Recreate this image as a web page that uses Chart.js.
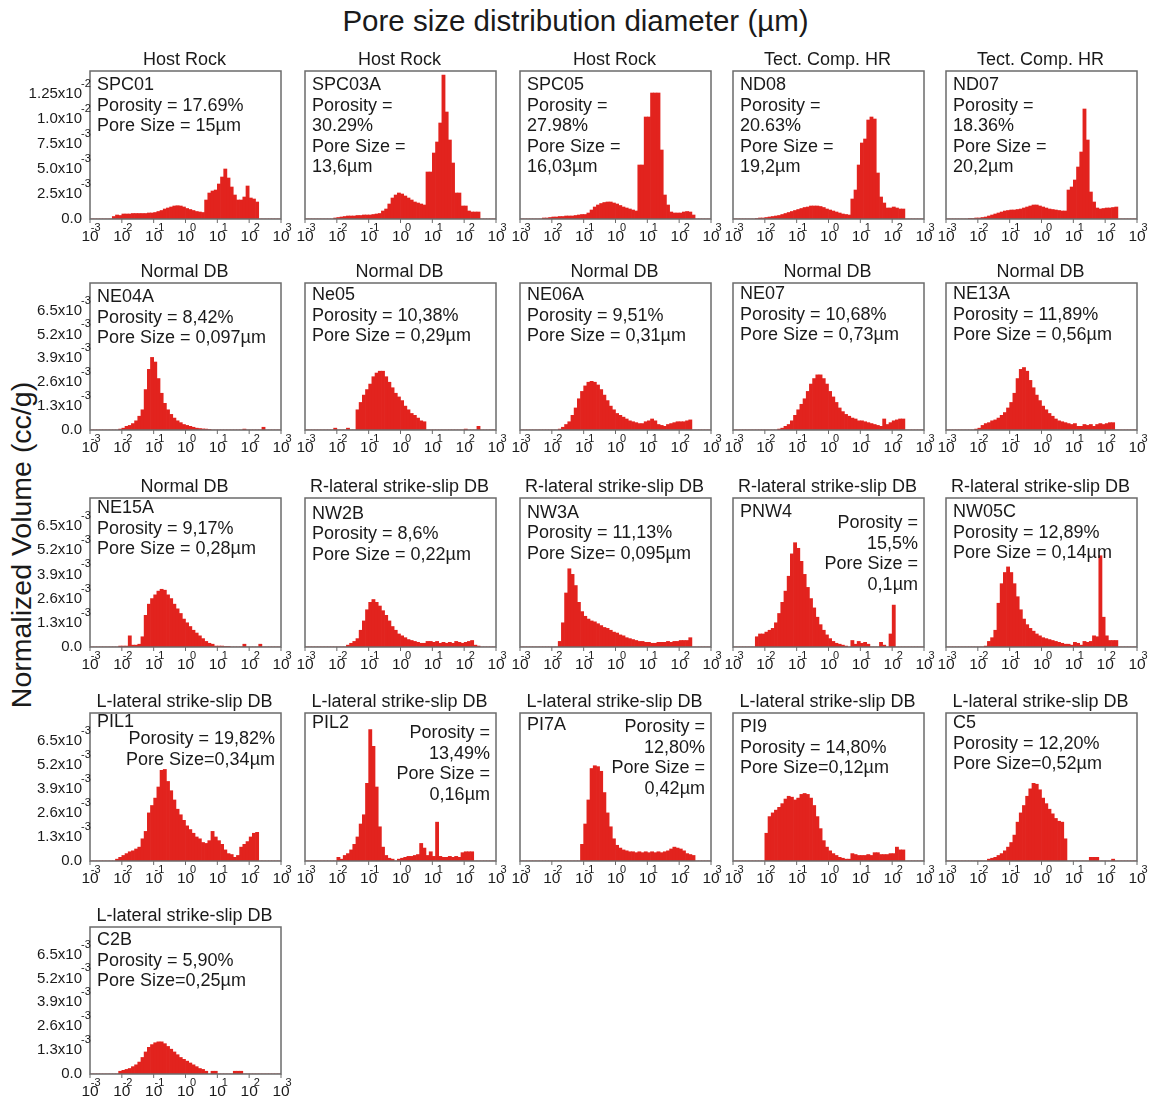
<!DOCTYPE html>
<html>
<head>
<meta charset="utf-8">
<script src="https://cdn.jsdelivr.net/npm/chart.js@4.4.0/dist/chart.umd.min.js"></script>
<style>
  body { margin: 0; background: #fff; width: 1151px; height: 1101px; position: relative; overflow: hidden;
         font-family: "Liberation Sans", Arial, sans-serif; color: #1a1a1a; }
  #title { position: absolute; left: 0; width: 1151px; top: 4px; text-align: center; font-size: 29.5px; }
  #ylab { position: absolute; left: 21px; top: 545px; transform: translate(-50%, -50%) rotate(-90deg);
          font-size: 28.5px; white-space: nowrap; }
  canvas { position: absolute; }
</style>
</head>
<body>
<div id="title">Pore size distribution diameter (µm)</div>
<div id="ylab">Normalized Volume (cc/g)</div>
<script>
// log10 of pore diameter (µm), centre of each 0.1-decade bin
const binCenters = [
  -2.95, -2.85, -2.75, -2.65, -2.55, -2.45, -2.35, -2.25, -2.15, -2.05,
  -1.95, -1.85, -1.75, -1.65, -1.55, -1.45, -1.35, -1.25, -1.15, -1.05,
  -0.95, -0.85, -0.75, -0.65, -0.55, -0.45, -0.35, -0.25, -0.15, -0.05,
  0.05, 0.15, 0.25, 0.35, 0.45, 0.55, 0.65, 0.75, 0.85, 0.95,
  1.05, 1.15, 1.25, 1.35, 1.45, 1.55, 1.65, 1.75, 1.85, 1.95,
  2.05, 2.15, 2.25, 2.35, 2.45, 2.55, 2.65, 2.75, 2.85, 2.95
];

// normalized volume per bin, in 10^-3 cc/g
const spc01 = [
  0, 0, 0, 0, 0, 0, 0, 0.25, 0.4, 0.35,
  0.5, 0.5, 0.5, 0.55, 0.55, 0.55, 0.55, 0.55, 0.6, 0.6,
  0.65, 0.75, 0.85, 1.0, 1.1, 1.2, 1.3, 1.33, 1.3, 1.2,
  1.05, 0.95, 0.85, 0.75, 0.7, 0.65, 1.9, 2.6, 2.8, 2.9,
  3.5, 4.2, 5.0, 4.1, 3.2, 2.4, 1.9, 1.9, 2.2, 3.3,
  2.1, 2.0, 1.7, 0, 0, 0, 0, 0, 0, 0
];
const spc03a = [
  0, 0, 0, 0, 0, 0, 0, 0, 0, 0.1,
  0.15, 0.2, 0.25, 0.3, 0.3, 0.3, 0.35, 0.35, 0.4, 0.4,
  0.4, 0.45, 0.5, 0.55, 0.8, 1.0, 1.5, 2.1, 2.4, 2.6,
  2.5, 2.3, 2.1, 1.9, 1.7, 1.6, 1.5, 1.4, 4.7, 4.7,
  6.6, 7.7, 9.6, 14.4, 10.7, 7.9, 5.6, 2.6, 2.6, 1.3,
  1.3, 0.8, 0.7, 0.7, 0.7, 0, 0, 0, 0, 0
];
const spc05 = [
  0, 0, 0, 0, 0, 0, 0, 0.1, 0.1, 0.15,
  0.2, 0.2, 0.25, 0.25, 0.3, 0.3, 0.3, 0.35, 0.4, 0.45,
  0.45, 0.6, 0.9, 1.2, 1.4, 1.55, 1.65, 1.7, 1.7, 1.6,
  1.5, 1.35, 1.2, 1.1, 1.0, 0.9, 0.8, 5.4, 5.4, 10.2,
  10.2, 12.6, 12.6, 12.6, 6.9, 2.4, 1.4, 0.7, 0.6, 0.6,
  0.6, 0.7, 0.75, 0.7, 0.4, 0, 0, 0, 0, 0
];
const nd08 = [
  0, 0, 0, 0, 0, 0, 0, 0.05, 0.1, 0.1,
  0.15, 0.2, 0.25, 0.3, 0.35, 0.45, 0.55, 0.65, 0.75, 0.85,
  0.95, 1.05, 1.15, 1.2, 1.3, 1.3, 1.3, 1.25, 1.15, 1.0,
  0.9, 0.8, 0.7, 0.6, 0.5, 0.45, 0.4, 2.0, 2.9, 5.4,
  7.6, 8.0, 9.9, 10.2, 10.0, 4.6, 2.2, 1.6, 1.1, 1.1,
  1.2, 1.1, 1.0, 1.0, 0, 0, 0, 0, 0, 0
];
const nd07 = [
  0, 0, 0, 0, 0, 0, 0, 0.05, 0.05, 0.1,
  0.1, 0.15, 0.2, 0.3, 0.4, 0.5, 0.6, 0.7, 0.8, 0.85,
  0.9, 0.9, 0.95, 1.0, 1.1, 1.2, 1.3, 1.4, 1.4, 1.3,
  1.2, 1.1, 1.0, 0.95, 0.9, 0.85, 0.8, 0.8, 2.9, 3.2,
  3.9, 5.2, 6.7, 11.0, 7.9, 2.7, 1.7, 1.1, 1.0, 1.05,
  1.1, 1.1, 1.15, 1.2, 0, 0, 0, 0, 0, 0
];
const ne04a = [
  0, 0, 0, 0, 0, 0, 0, 0, 0, 0.05,
  0.1, 0.2, 0.25, 0.35, 0.5, 0.75, 1.1, 2.2, 3.3, 3.95,
  3.7, 2.8, 2.0, 1.45, 1.1, 0.85, 0.65, 0.5, 0.4, 0.3,
  0.25, 0.2, 0.15, 0.1, 0.08, 0.06, 0.05, 0.03, 0, 0,
  0, 0, 0, 0, 0, 0, 0, 0, 0.05, 0,
  0, 0, 0, 0, 0.15, 0, 0, 0, 0, 0
];
const ne05 = [
  0, 0, 0, 0, 0, 0, 0, 0, 0, 0.1,
  0, 0, 0, 0.1, 0, 0, 1.1, 1.5, 1.9, 2.2,
  2.5, 2.9, 3.1, 3.2, 3.2, 2.9, 2.6, 2.3, 2.0, 1.8,
  1.6, 1.3, 1.1, 0.9, 0.8, 0.65, 0.5, 0.45, 0, 0,
  0, 0, 0, 0, 0, 0, 0, 0, 0, 0,
  0.05, 0, 0, 0, 0.2, 0, 0, 0, 0, 0
];
const ne06a = [
  0, 0, 0, 0, 0, 0, 0, 0, 0, 0,
  0, 0, 0.05, 0.15, 0.3, 0.45, 0.8, 1.2, 1.7, 2.1,
  2.4, 2.6, 2.65, 2.6, 2.45, 2.2, 1.9, 1.6, 1.3, 1.1,
  0.9, 0.8, 0.7, 0.6, 0.5, 0.45, 0.4, 0.35, 0.35, 0.45,
  0.5, 0.6, 0.5, 0.3, 0.25, 0.2, 0.3, 0.35, 0.4, 0.45,
  0.45, 0.45, 0.5, 0.55, 0, 0, 0, 0, 0, 0
];
const ne07 = [
  0, 0, 0, 0, 0, 0, 0, 0, 0, 0,
  0, 0, 0, 0, 0.05, 0.1, 0.2, 0.3, 0.5, 0.8,
  1.1, 1.4, 1.7, 2.1, 2.5, 2.8, 3.0, 3.0, 2.8, 2.5,
  2.1, 1.8, 1.5, 1.2, 1.0, 0.85, 0.75, 0.65, 0.6, 0.5,
  0.5, 0.45, 0.4, 0.35, 0.3, 0.25, 0.2, 0.6, 0.3, 0.4,
  0.5, 0.55, 0.6, 0.6, 0, 0, 0, 0, 0, 0
];
const ne13a = [
  0, 0, 0, 0, 0, 0, 0, 0, 0, 0.05,
  0.1, 0.25, 0.35, 0.4, 0.5, 0.55, 0.65, 0.8, 0.95, 1.2,
  1.5, 2.0, 2.8, 3.3, 3.4, 3.2, 2.7, 2.3, 1.9, 1.6,
  1.3, 1.1, 0.9, 0.75, 0.6, 0.5, 0.45, 0.4, 0.35, 0.3,
  0.35, 0.2, 0.2, 0.3, 0.25, 0.3, 0.2, 0.3, 0.35, 0.3,
  0.35, 0.4, 0.4, 0, 0, 0, 0, 0, 0, 0
];
const ne15a = [
  0, 0, 0, 0, 0, 0, 0, 0, 0, 0.05,
  0.05, 0.05, 0.6, 0.1, 0.1, 0.15, 0.55, 1.7, 2.3, 2.6,
  2.8, 3.0, 3.1, 3.05, 2.8, 2.6, 2.3, 2.05, 1.8, 1.5,
  1.3, 1.1, 0.9, 0.75, 0.6, 0.45, 0.3, 0.2, 0.15, 0.05,
  0.05, 0.05, 0.03, 0.03, 0, 0, 0, 0, 0.15, 0,
  0, 0, 0, 0.15, 0, 0, 0, 0, 0, 0
];
const nw2b = [
  0, 0, 0, 0, 0, 0, 0, 0, 0, 0,
  0, 0, 0, 0.1, 0.2, 0.3, 0.45, 0.9, 1.4, 2.0,
  2.4, 2.55, 2.4, 2.2, 1.95, 1.7, 1.4, 1.1, 0.9, 0.7,
  0.6, 0.5, 0.4, 0.35, 0.3, 0.25, 0.2, 0.2, 0.3, 0.3,
  0.25, 0.3, 0.2, 0.25, 0.2, 0.25, 0.2, 0.3, 0.25, 0.2,
  0.25, 0.3, 0.35, 0.1, 0.05, 0, 0, 0, 0, 0
];
const nw3a = [
  0, 0, 0, 0, 0, 0, 0, 0, 0, 0,
  0, 0, 0.3, 1.3, 2.9, 4.2, 3.9, 3.3, 2.4, 1.9,
  1.65, 1.5, 1.4, 1.35, 1.25, 1.15, 1.05, 1.0, 0.9, 0.8,
  0.75, 0.65, 0.6, 0.5, 0.45, 0.4, 0.35, 0.3, 0.3, 0.25,
  0.25, 0.2, 0.2, 0.25, 0.25, 0.25, 0.3, 0.25, 0.3, 0.3,
  0.35, 0.35, 0.35, 0.5, 0, 0, 0, 0, 0, 0
];
const pnw4 = [
  0, 0, 0, 0, 0, 0, 0, 0.55, 0.7, 0.7,
  0.8, 0.9, 1.0, 1.3, 1.8, 2.4, 3.0, 3.8, 5.0, 5.6,
  5.3, 4.6, 3.9, 3.2, 2.6, 2.1, 1.6, 1.2, 0.9, 0.65,
  0.45, 0.3, 0.2, 0.15, 0.1, 0.05, 0, 0.35, 0.15, 0.3,
  0.2, 0.25, 0.15, 0, 0, 0, 0.25, 0.1, 0, 0.7,
  2.25, 0, 0, 0, 0, 0, 0, 0, 0, 0
];
const nw05c = [
  0, 0, 0, 0, 0, 0, 0, 0, 0, 0,
  0, 0, 0.05, 0.3, 0.5, 0.9, 2.35, 3.4, 4.0, 4.3,
  4.0, 3.4, 2.7, 2.0, 1.5, 1.2, 1.0, 0.85, 0.7, 0.6,
  0.5, 0.45, 0.4, 0.35, 0.3, 0.25, 0.2, 0.15, 0.15, 0.1,
  0.25, 0.2, 0.1, 0.3, 0.25, 0.3, 0.6, 0.55, 4.9, 1.6,
  0.6, 0.35, 0.35, 0.35, 0, 0, 0, 0, 0, 0
];
const pil1 = [
  0, 0, 0, 0, 0, 0, 0, 0, 0.1, 0.2,
  0.3, 0.4, 0.5, 0.55, 0.65, 0.75, 1.2, 1.6, 2.6, 3.0,
  3.4, 4.0, 4.9, 4.95, 4.3, 3.8, 3.3, 2.8, 2.5, 2.2,
  1.9, 1.7, 1.5, 1.3, 1.2, 1.0, 0.95, 1.1, 1.6, 1.3,
  1.1, 0.9, 0.6, 0.4, 0.35, 0.2, 0.3, 0.75, 0.9, 1.05,
  1.3, 1.5, 1.55, 0, 0, 0, 0, 0, 0, 0
];
const pil2 = [
  0, 0, 0, 0, 0, 0, 0, 0, 0, 0,
  0.2, 0.1, 0.3, 0.4, 0.6, 0.9, 1.3, 2.0, 2.5, 4.2,
  7.1, 6.2, 4.0, 1.85, 0.75, 0.3, 0.15, 0.1, 0, 0.1,
  0.15, 0.2, 0.25, 0.25, 0.3, 0.35, 0.95, 0.7, 0.3, 0.5,
  0.25, 2.1, 0.25, 0.2, 0.2, 0.25, 0.2, 0.25, 0.2, 0.45,
  0.5, 0.5, 0.5, 0, 0, 0, 0, 0, 0, 0
];
const pi7a = [
  0, 0, 0, 0, 0, 0, 0, 0, 0, 0,
  0, 0, 0, 0, 0, 0, 0, 0, 0, 0.9,
  2.0, 3.3, 5.0, 5.15, 5.1, 4.85, 3.7, 2.6, 1.85, 1.2,
  0.85, 0.7, 0.6, 0.55, 0.5, 0.5, 0.45, 0.5, 0.45, 0.5,
  0.45, 0.5, 0.45, 0.5, 0.45, 0.5, 0.55, 0.65, 0.75, 0.7,
  0.65, 0.55, 0.4, 0.35, 0.3, 0, 0, 0, 0, 0
];
const pi9 = [
  0, 0, 0, 0, 0, 0, 0, 0, 0, 0,
  1.5, 2.4, 2.6, 2.75, 2.9, 3.1, 3.35, 3.5, 3.45, 3.3,
  3.4, 3.6, 3.65, 3.6, 3.4, 3.0, 2.4, 1.75, 1.1, 0.75,
  0.55, 0.4, 0.3, 0.2, 0.15, 0.1, 0.1, 0.4, 0.35, 0.3,
  0.3, 0.3, 0.35, 0.3, 0.45, 0.45, 0.35, 0.35, 0.35, 0.4,
  0.4, 0.75, 0.6, 0.6, 0, 0, 0, 0, 0, 0
];
const c5 = [
  0, 0, 0, 0, 0, 0, 0, 0, 0, 0,
  0, 0, 0, 0.1, 0.15, 0.2, 0.3, 0.4, 0.55, 0.75,
  1.0, 1.4, 2.1, 2.6, 3.0, 3.5, 3.9, 4.2, 4.15, 3.85,
  3.4, 3.1, 2.8, 2.55, 2.3, 2.15, 2.1, 1.2, 0, 0,
  0, 0, 0, 0, 0, 0.2, 0.2, 0.2, 0, 0,
  0, 0, 0.1, 0, 0, 0, 0, 0, 0, 0
];
const c2b = [
  0, 0, 0, 0, 0, 0, 0, 0, 0, 0.15,
  0.2, 0.25, 0.3, 0.4, 0.5, 0.65, 0.9, 1.2, 1.45, 1.6,
  1.7, 1.75, 1.75, 1.65, 1.5, 1.35, 1.2, 1.05, 0.9, 0.8,
  0.7, 0.6, 0.5, 0.4, 0.3, 0.25, 0.15, 0, 0.15, 0.15,
  0, 0, 0, 0, 0, 0.15, 0.15, 0.15, 0, 0,
  0, 0, 0, 0, 0, 0, 0, 0, 0, 0
];

// axis ticks
const decadeTicks = [-3, -2, -1, 0, 1, 2, 3];
const decadeExps = ['-3', '-2', '-1', '0', '1', '2', '3'];
const topRowTicks = [0, 2.5, 5, 7.5, 10, 12.5];
const topRowLabels = ['0.0', '2.5x10', '5.0x10', '7.5x10', '1.0x10', '1.25x10'];
const topRowExps = ['', '-3', '-3', '-3', '-2', '-2'];
const lowRowTicks = [0, 1.3, 2.6, 3.9, 5.2, 6.5];
const lowRowLabels = ['0.0', '1.3x10', '2.6x10', '3.9x10', '5.2x10', '6.5x10'];
const lowRowExps = ['', '-3', '-3', '-3', '-3', '-3'];

// layout
const colLeft = [90, 305, 520, 733, 946];
const rowTop = [71, 283, 498, 713, 927];
const rowBottom = [219, 430, 647, 861, 1074];
const boxWidth = 191;
const barRed = '#e2231e';
const FONT = '"Liberation Sans", Arial, sans-serif';

const panels = [
  { row: 0, col: 0, title: 'Host Rock', values: spc01, left: ['SPC01', 'Porosity = 17.69%', 'Pore Size = 15µm'] },
  { row: 0, col: 1, title: 'Host Rock', values: spc03a, left: ['SPC03A', 'Porosity =', '30.29%', 'Pore Size =', '13,6µm'] },
  { row: 0, col: 2, title: 'Host Rock', values: spc05, left: ['SPC05', 'Porosity =', '27.98%', 'Pore Size =', '16,03µm'] },
  { row: 0, col: 3, title: 'Tect. Comp. HR', values: nd08, left: ['ND08', 'Porosity =', '20.63%', 'Pore Size =', '19,2µm'] },
  { row: 0, col: 4, title: 'Tect. Comp. HR', values: nd07, left: ['ND07', 'Porosity =', '18.36%', 'Pore Size =', '20,2µm'] },

  { row: 1, col: 0, title: 'Normal DB', values: ne04a, left: ['NE04A', 'Porosity = 8,42%', 'Pore Size = 0,097µm'] },
  { row: 1, col: 1, title: 'Normal DB', values: ne05, left: ['Ne05', 'Porosity = 10,38%', 'Pore Size = 0,29µm'], leftTop: 12.5 },
  { row: 1, col: 2, title: 'Normal DB', values: ne06a, left: ['NE06A', 'Porosity = 9,51%', 'Pore Size = 0,31µm'], leftTop: 12.5 },
  { row: 1, col: 3, title: 'Normal DB', values: ne07, left: ['NE07', 'Porosity = 10,68%', 'Pore Size = 0,73µm'], leftTop: 11.5 },
  { row: 1, col: 4, title: 'Normal DB', values: ne13a, left: ['NE13A', 'Porosity = 11,89%', 'Pore Size = 0,56µm'], leftTop: 11.5 },

  { row: 2, col: 0, title: 'Normal DB', values: ne15a, left: ['NE15A', 'Porosity = 9,17%', 'Pore Size = 0,28µm'], leftTop: 10.5 },
  { row: 2, col: 1, title: 'R-lateral strike-slip DB', values: nw2b, left: ['NW2B', 'Porosity = 8,6%', 'Pore Size = 0,22µm'], leftTop: 16 },
  { row: 2, col: 2, title: 'R-lateral strike-slip DB', values: nw3a, left: ['NW3A', 'Porosity = 11,13%', 'Pore Size= 0,095µm'], leftTop: 15 },
  { row: 2, col: 3, title: 'R-lateral strike-slip DB', values: pnw4, left: ['PNW4'],
    right: ['Porosity =', '15,5%', 'Pore Size =', '0,1µm'], rightTop: 25 },
  { row: 2, col: 4, title: 'R-lateral strike-slip DB', values: nw05c, left: ['NW05C', 'Porosity = 12,89%', 'Pore Size = 0,14µm'] },

  { row: 3, col: 0, title: 'L-lateral strike-slip DB', values: pil1, left: ['PIL1'], leftTop: 9.5,
    right: ['Porosity = 19,82%', 'Pore Size=0,34µm'], rightTop: 26 },
  { row: 3, col: 1, title: 'L-lateral strike-slip DB', values: pil2, left: ['PIL2'], leftTop: 10.5,
    right: ['Porosity =', '13,49%', 'Pore Size =', '0,16µm'], rightTop: 20 },
  { row: 3, col: 2, title: 'L-lateral strike-slip DB', values: pi7a, left: ['PI7A'], leftTop: 12,
    right: ['Porosity =', '12,80%', 'Pore Size =', '0,42µm'], rightTop: 14 },
  { row: 3, col: 3, title: 'L-lateral strike-slip DB', values: pi9, left: ['PI9', 'Porosity = 14,80%', 'Pore Size=0,12µm'] },
  { row: 3, col: 4, title: 'L-lateral strike-slip DB', values: c5, left: ['C5', 'Porosity = 12,20%', 'Pore Size=0,52µm'], leftTop: 10.5 },

  { row: 4, col: 0, title: 'L-lateral strike-slip DB', values: c2b, left: ['C2B', 'Porosity = 5,90%', 'Pore Size=0,25µm'], leftTop: 13.5 }
];

// frame, ticks, labels and texts of one panel
const panelDecor = {
  id: 'panelDecor',
  afterDraw(chart, args, opts) {
    const ctx = chart.ctx;
    const a = chart.chartArea;
    const xs = chart.scales.x;
    const ys = chart.scales.y;
    ctx.save();

    ctx.strokeStyle = '#6b6b6b';
    ctx.lineWidth = 1.5;
    ctx.strokeRect(a.left, a.top, a.right - a.left, a.bottom - a.top);

    ctx.fillStyle = '#1a1a1a';
    ctx.textBaseline = 'middle';

    // x axis: 10^n
    ctx.lineWidth = 1;
    decadeTicks.forEach((d, i) => {
      const px = xs.getPixelForValue(d);
      ctx.beginPath();
      ctx.moveTo(px, a.bottom);
      ctx.lineTo(px, a.bottom + 4);
      ctx.stroke();
      ctx.font = '15.5px ' + FONT;
      ctx.textAlign = 'center';
      ctx.fillText('10', px, a.bottom + 18);
      const w = ctx.measureText('10').width;
      ctx.font = '11px ' + FONT;
      ctx.textAlign = 'right';
      ctx.fillText(decadeExps[i], px + w / 2 + 2, a.bottom + 9);
    });

    // y axis only on the first column
    if (opts.yTicks) {
      opts.yTicks.forEach((v, i) => {
        const py = ys.getPixelForValue(v);
        ctx.font = '15px ' + FONT;
        ctx.textAlign = 'right';
        ctx.fillText(opts.yLabels[i], a.left - 8, py);
        if (opts.yExps[i]) {
          ctx.font = '11px ' + FONT;
          ctx.textAlign = 'left';
          ctx.fillText(opts.yExps[i], a.left - 9, py - 10);
        }
      });
    }

    // panel title
    ctx.font = '18px ' + FONT;
    ctx.textAlign = 'center';
    ctx.fillText(opts.title, (a.left + a.right) / 2 - 1, a.top - 11);

    // sample texts
    ctx.textAlign = 'left';
    const lt = opts.leftTop != null ? opts.leftTop : 14.5;
    opts.left.forEach((t, i) => ctx.fillText(t, a.left + 7, a.top + lt + i * 20.4));
    if (opts.right) {
      ctx.textAlign = 'right';
      opts.right.forEach((t, i) => ctx.fillText(t, a.right - 6, a.top + opts.rightTop + i * 20.6));
    }
    ctx.restore();
  }
};

panels.forEach(p => {
  const padL = p.col === 0 ? 90 : 16;
  const padT = 30, padR = 14, padB = 30;
  const boxH = rowBottom[p.row] - rowTop[p.row];
  const canvas = document.createElement('canvas');
  canvas.width = padL + boxWidth + padR;
  canvas.height = padT + boxH + padB;
  canvas.style.left = (colLeft[p.col] - padL) + 'px';
  canvas.style.top = (rowTop[p.row] - padT) + 'px';
  document.body.appendChild(canvas);

  const top = p.row === 0;
  new Chart(canvas.getContext('2d'), {
    type: 'bar',
    data: {
      datasets: [{
        data: binCenters.map((x, i) => ({ x: x, y: p.values[i] })),
        backgroundColor: barRed,
        borderWidth: 0,
        barPercentage: 1,
        categoryPercentage: 1
      }]
    },
    options: {
      responsive: false,
      animation: false,
      devicePixelRatio: 1,
      layout: { padding: { left: padL, top: padT, right: padR, bottom: padB } },
      plugins: {
        legend: { display: false },
        tooltip: { enabled: false },
        panelDecor: {
          title: p.title,
          left: p.left,
          leftTop: p.leftTop,
          right: p.right,
          rightTop: p.rightTop,
          yTicks: p.col === 0 ? (top ? topRowTicks : lowRowTicks) : null,
          yLabels: top ? topRowLabels : lowRowLabels,
          yExps: top ? topRowExps : lowRowExps
        }
      },
      scales: {
        x: { type: 'linear', min: -3, max: 3, offset: false, display: false },
        y: { min: 0, max: top ? 14.8 : 8.0, display: false }
      }
    },
    plugins: [panelDecor]
  });
});
</script>
</body>
</html>
